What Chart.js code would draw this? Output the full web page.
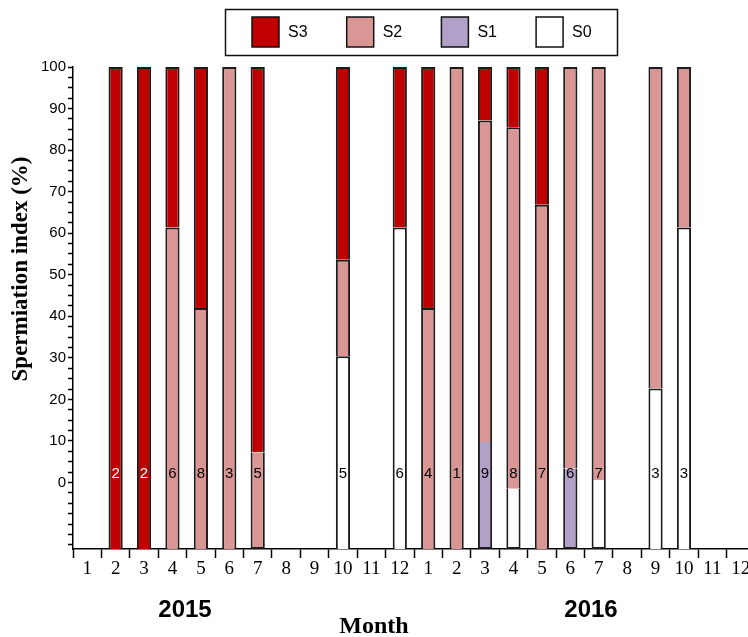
<!DOCTYPE html>
<html>
<head>
    <title>Spermiation index</title>
    <script src="https://cdn.jsdelivr.net/npm/chart.js"></script>
    <style>
        body {
            margin: 0;
            overflow: hidden;
            background: #fff;
        }
        #chart {
            display: block;
        }
    </style>
</head>
<body>
    <canvas id="chart" width="757" height="637"></canvas>

    <script>
        // months of 2015 then 2016
        const months = ['1','2','3','4','5','6','7','8','9','10','11','12',
                        '1','2','3','4','5','6','7','8','9','10','11','12'];
        const years = ['2015', '2016'];

        // number of fish sampled each month (printed inside the bars)
        const sampleSize = [null, 2, 2, 6, 8, 3, 5, null, null, 5, null, 6,
                            4, 1, 9, 8, 7, 6, 7, null, 3, 3, null, null];

        // percentage of each spermiation stage per month
        const s0 = [0, 0, 0, 0, 0, 0, 0, 0, 0, 40, 0, 66.7,
                    0, 0, 0, 12.5, 0, 0, 14.3, 0, 33.3, 66.7, 0, 0];
        const s1 = [0, 0, 0, 0, 0, 0, 0, 0, 0, 0, 0, 0,
                    0, 0, 22.2, 0, 0, 16.7, 0, 0, 0, 0, 0, 0];
        const s2 = [0, 0, 0, 66.7, 50, 100, 20, 0, 0, 20, 0, 0,
                    50, 100, 66.7, 75, 71.4, 83.3, 85.7, 0, 66.7, 33.3, 0, 0];
        const s3 = [0, 100, 100, 33.3, 50, 0, 80, 0, 0, 40, 0, 33.3,
                    50, 0, 11.1, 12.5, 28.6, 0, 0, 0, 0, 0, 0, 0];

        const yTickLabels = [0, 10, 20, 30, 40, 50, 60, 70, 80, 90, 100];

        // the printed axis is shifted: bars start 16 units below the "0" label
        const axisMin = -16;
        const toAxis = p => axisMin + p * (100 - axisMin) / 100;

        const stages = [
            { label: 'S0', values: s0, color: '#ffffff' },
            { label: 'S1', values: s1, color: '#b1a0c7' },
            { label: 'S2', values: s2, color: '#da9694' },
            { label: 'S3', values: s3, color: '#c00000' }
        ];

        // stack the stages as floating bars
        const cum = months.map(() => 0);
        const datasets = stages.map(st => {
            const data = st.values.map((v, i) => {
                if (!v) return null;
                const seg = [toAxis(cum[i]), toAxis(cum[i] + v)];
                cum[i] += v;
                return seg;
            });
            return {
                label: st.label,
                data: data,
                backgroundColor: st.color,
                borderColor: '#1c1c1c',
                borderWidth: 2,
                borderSkipped: 'start',
                grouped: false,
                barPercentage: 0.5,
                categoryPercentage: 1
            };
        });

        const yTicks = [];
        for (let v = -15; v <= 100; v += 2.5) yTicks.push(v);

        const extras = {
            id: 'extras',
            afterDatasetsDraw(chart) {
                const ctx = chart.ctx;
                const xs = chart.scales.x, ys = chart.scales.y;
                const at = 2;
                ctx.save();
                ctx.font = '15px "Liberation Sans", Arial, sans-serif';
                ctx.textAlign = 'center';
                ctx.textBaseline = 'middle';
                sampleSize.forEach((n, i) => {
                    if (n == null) return;
                    let top = 0;
                    chart.data.datasets.forEach((ds, k) => {
                        const seg = ds.data[i];
                        if (seg && seg[0] <= at && seg[1] >= at) top = k;
                    });
                    ctx.fillStyle = top === 3 ? '#ffffff' : '#000000';
                    ctx.fillText(String(n), xs.getPixelForValue(i), ys.getPixelForValue(at));
                });
                ctx.restore();
            },
            afterDraw(chart) {
                const ctx = chart.ctx;
                ctx.save();

                // legend box
                ctx.strokeStyle = '#111';
                ctx.lineWidth = 1.5;
                ctx.strokeRect(225.5, 9.5, 392, 46);
                ctx.font = '16px "Liberation Sans", Arial, sans-serif';
                ctx.textBaseline = 'middle';
                ctx.textAlign = 'left';
                stages.slice().reverse().forEach((st, k) => {
                    const x = 252 + k * 94.7;
                    ctx.fillStyle = st.color;
                    ctx.fillRect(x, 17, 27, 30);
                    ctx.strokeRect(x, 17, 27, 30);
                    ctx.fillStyle = '#000';
                    ctx.fillText(st.label, x + 36, 33);
                });

                // axis titles
                ctx.fillStyle = '#000';
                ctx.textAlign = 'center';
                ctx.font = 'bold 23px "Liberation Serif", "Times New Roman", serif';
                ctx.save();
                ctx.translate(21, 269);
                ctx.rotate(-Math.PI / 2);
                ctx.fillText('Spermiation index (%)', 0, 0);
                ctx.restore();
                ctx.font = 'bold 24px "Liberation Serif", "Times New Roman", serif';
                ctx.fillText('Month', 374, 627);

                // year labels
                ctx.font = 'bold 24px "Liberation Sans", Arial, sans-serif';
                ctx.fillText(years[0], 185, 610);
                ctx.fillText(years[1], 591, 610);
                ctx.restore();
            }
        };

        new Chart(document.getElementById('chart'), {
            type: 'bar',
            data: {
                labels: months,
                datasets: datasets
            },
            options: {
                responsive: false,
                animation: false,
                layout: {
                    padding: { top: 67, right: 2, bottom: 0, left: 0 }
                },
                plugins: {
                    legend: { display: false },
                    tooltip: { enabled: false }
                },
                scales: {
                    x: {
                        grid: {
                            offset: true,
                            drawOnChartArea: false,
                            tickLength: 9,
                            tickColor: '#000',
                            tickWidth: 1.5
                        },
                        border: { color: '#000', width: 1.5 },
                        ticks: {
                            autoSkip: false,
                            maxRotation: 0,
                            padding: 0,
                            color: '#000',
                            font: { family: '"Liberation Serif", "Times New Roman", serif', size: 19 }
                        },
                        afterFit: s => { s.height = 88; }
                    },
                    y: {
                        min: axisMin,
                        max: 100,
                        afterBuildTicks: axis => {
                            axis.ticks = yTicks.map(v => ({ value: v }));
                        },
                        grid: {
                            drawOnChartArea: false,
                            tickLength: 5,
                            tickColor: '#000',
                            tickWidth: 1.5
                        },
                        border: { color: '#000', width: 1.5 },
                        ticks: {
                            autoSkip: false,
                            padding: 2,
                            color: '#000',
                            font: { family: '"Liberation Sans", Arial, sans-serif', size: 15 },
                            callback: v => yTickLabels.includes(v) ? String(v) : ''
                        },
                        afterFit: s => { s.width = 73; }
                    }
                }
            },
            plugins: [extras]
        });
    </script>
</body>
</html>
